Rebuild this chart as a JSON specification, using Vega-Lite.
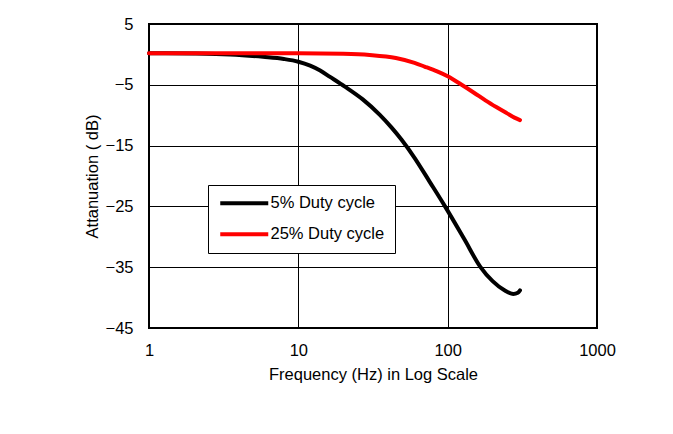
{
  "$schema": "https://vega.github.io/schema/vega-lite/v6.json",
  "width": 448,
  "height": 304,
  "autosize": {"type": "none"},
  "padding": {"left": 149, "top": 24, "right": 76, "bottom": 106},
  "background": "white",
  "config": {
    "font": "Liberation Sans",
    "view": {"stroke": "black", "strokeWidth": 2},
    "legend": {
      "strokeColor": "black",
      "fillColor": "white",
      "padding": 10
    },
    "axis": {
      "domain": false,
      "ticks": false,
      "grid": true,
      "gridColor": "black",
      "gridWidth": 1,
      "gridOpacity": 1,
      "labelFlush": false,
      "labelFont": "Liberation Sans",
      "labelFontSize": 16.5,
      "labelColor": "black",
      "titleFont": "Liberation Sans",
      "titleFontSize": 16.5,
      "titleFontWeight": "normal",
      "titleColor": "black"
    }
  },
  "data": {
    "values": [
      {"f": 1, "v": 0.2, "series": "5% Duty cycle"},
      {"f": 2, "v": 0.15, "series": "5% Duty cycle"},
      {"f": 3.5, "v": 0.0, "series": "5% Duty cycle"},
      {"f": 5.8, "v": -0.4, "series": "5% Duty cycle"},
      {"f": 8, "v": -0.75, "series": "5% Duty cycle"},
      {"f": 10, "v": -1.2, "series": "5% Duty cycle"},
      {"f": 12, "v": -1.85, "series": "5% Duty cycle"},
      {"f": 14, "v": -2.65, "series": "5% Duty cycle"},
      {"f": 16.3, "v": -3.7, "series": "5% Duty cycle"},
      {"f": 20.5, "v": -5.3, "series": "5% Duty cycle"},
      {"f": 27, "v": -7.4, "series": "5% Duty cycle"},
      {"f": 35, "v": -9.9, "series": "5% Duty cycle"},
      {"f": 42, "v": -12.0, "series": "5% Duty cycle"},
      {"f": 49, "v": -14.0, "series": "5% Duty cycle"},
      {"f": 60, "v": -17.0, "series": "5% Duty cycle"},
      {"f": 76, "v": -21, "series": "5% Duty cycle"},
      {"f": 96, "v": -25, "series": "5% Duty cycle"},
      {"f": 130, "v": -30.5, "series": "5% Duty cycle"},
      {"f": 165, "v": -34.9, "series": "5% Duty cycle"},
      {"f": 200, "v": -37.3, "series": "5% Duty cycle"},
      {"f": 240, "v": -38.8, "series": "5% Duty cycle"},
      {"f": 275, "v": -39.4, "series": "5% Duty cycle"},
      {"f": 295, "v": -39.2, "series": "5% Duty cycle"},
      {"f": 305, "v": -38.8, "series": "5% Duty cycle"},
      {"f": 1, "v": 0.2, "series": "25% Duty cycle"},
      {"f": 5, "v": 0.2, "series": "25% Duty cycle"},
      {"f": 10, "v": 0.2, "series": "25% Duty cycle"},
      {"f": 20, "v": 0.1, "series": "25% Duty cycle"},
      {"f": 30, "v": -0.1, "series": "25% Duty cycle"},
      {"f": 45, "v": -0.6, "series": "25% Duty cycle"},
      {"f": 60, "v": -1.4, "series": "25% Duty cycle"},
      {"f": 70, "v": -2.0, "series": "25% Duty cycle"},
      {"f": 85, "v": -2.8, "series": "25% Duty cycle"},
      {"f": 100, "v": -3.6, "series": "25% Duty cycle"},
      {"f": 124, "v": -5.0, "series": "25% Duty cycle"},
      {"f": 150, "v": -6.3, "series": "25% Duty cycle"},
      {"f": 180, "v": -7.6, "series": "25% Duty cycle"},
      {"f": 213, "v": -8.7, "series": "25% Duty cycle"},
      {"f": 250, "v": -9.7, "series": "25% Duty cycle"},
      {"f": 280, "v": -10.4, "series": "25% Duty cycle"},
      {"f": 305, "v": -10.8, "series": "25% Duty cycle"}
    ]
  },
  "mark": {"type": "line", "strokeWidth": 4, "interpolate": "monotone", "strokeCap": "round"},
  "encoding": {
    "x": {
      "field": "f",
      "type": "quantitative",
      "scale": {"type": "log", "domain": [1, 1000]},
      "axis": {
        "values": [1, 10, 100, 1000],
        "format": "d",
        "title": "Frequency (Hz) in Log Scale",
        "labelPadding": 14,
        "titlePadding": 8
      }
    },
    "y": {
      "field": "v",
      "type": "quantitative",
      "scale": {"domain": [-45, 5], "nice": false, "zero": false},
      "axis": {
        "values": [-45, -35, -25, -15, -5, 5],
        "title": "Attanuation ( dB)",
        "labelPadding": 16,
        "titlePadding": 5
      }
    },
    "color": {
      "field": "series",
      "type": "nominal",
      "sort": ["5% Duty cycle", "25% Duty cycle"],
      "scale": {"domain": ["5% Duty cycle", "25% Duty cycle"], "range": ["#000000", "#ff0000"]},
      "legend": {
        "title": null,
        "orient": "none",
        "legendX": 59,
        "legendY": 161,
        "symbolType": "M-1,0H7",
        "symbolSize": 144,
        "symbolStrokeWidth": 4,
        "labelFontSize": 16.5,
        "labelFont": "Liberation Sans",
        "labelColor": "black",
        "labelOffset": 36,
        "rowPadding": 14
      }
    }
  }
}
